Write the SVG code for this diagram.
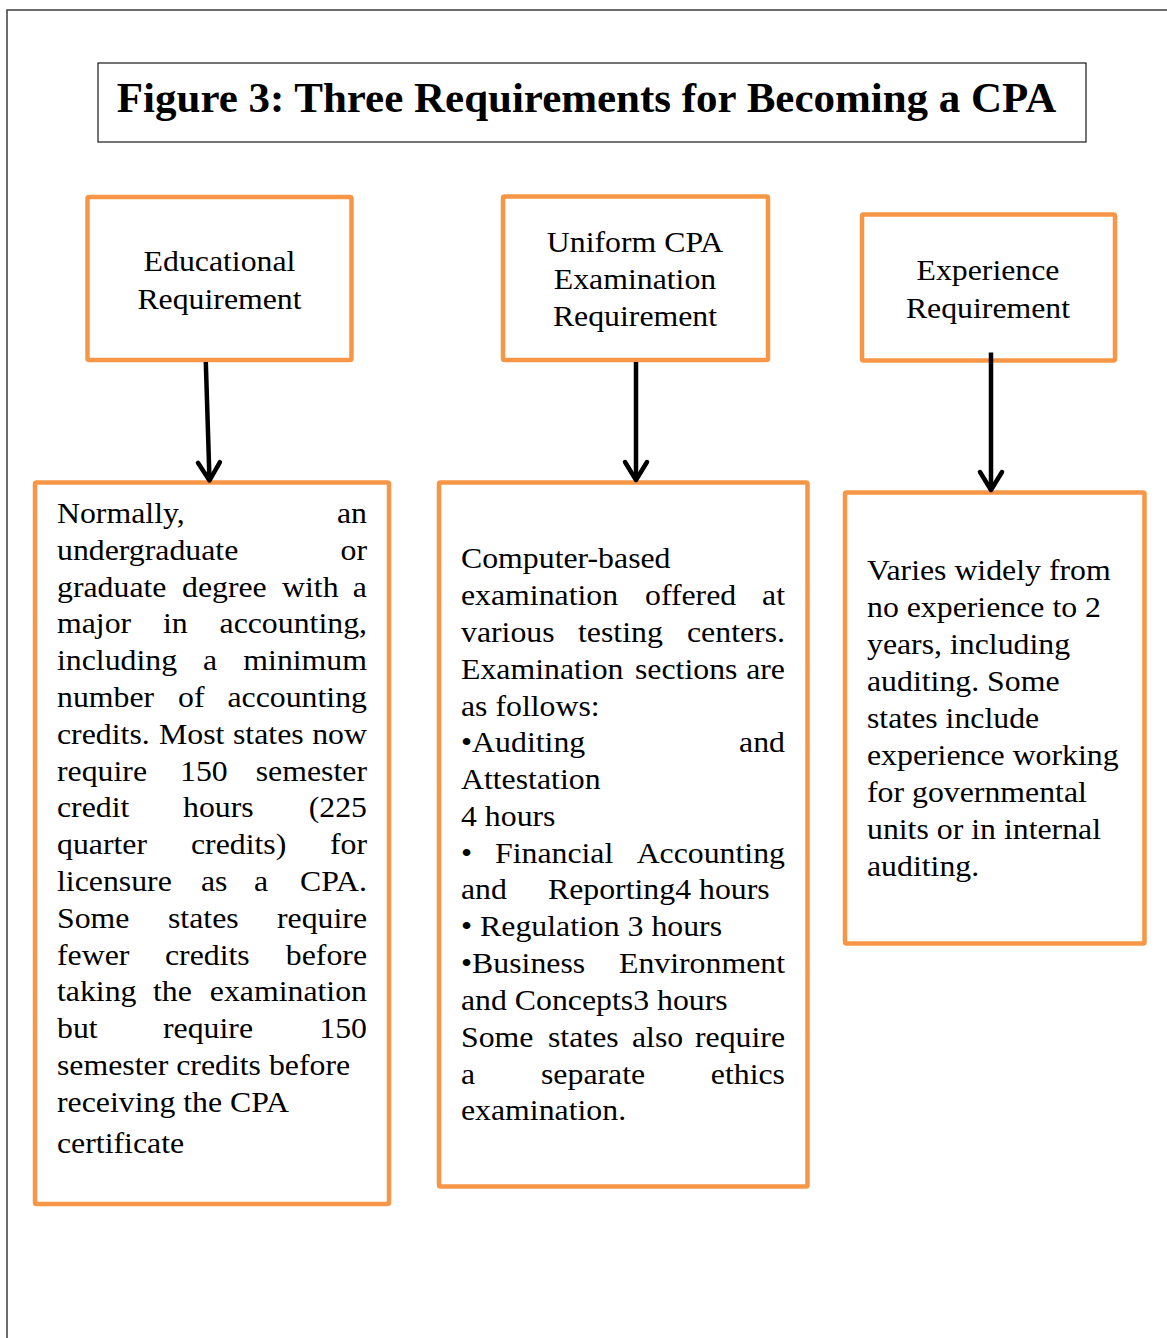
<svg xmlns="http://www.w3.org/2000/svg" width="1167" height="1338" viewBox="0 0 1167 1338">
<style>
.frame{fill:none;stroke:#3c3c3c;stroke-width:1.5}
.tbox{fill:#fff;stroke:#1a1a1a;stroke-width:1.2}
.box{fill:#fff;stroke:#F79646;stroke-width:4.5}
.title{font-family:"Liberation Serif","Times New Roman",serif;font-weight:bold;font-size:43px;fill:#000;text-anchor:middle}
.hd{font-family:"Liberation Serif","Times New Roman",serif;font-size:31.8px;fill:#000;text-anchor:middle}
.bd{font-family:"Liberation Serif","Times New Roman",serif;font-size:31.8px;fill:#000}
.e{text-anchor:end}
.conn{stroke:#000;stroke-width:4.5;fill:none}
</style>
<defs>
<marker id="ah" viewBox="-22 -15 26 30" refX="0" refY="0" markerWidth="26" markerHeight="30" markerUnits="userSpaceOnUse" orient="auto">
<path d="M-18,-11 L0,0 L-18,11" fill="none" stroke="#000" stroke-width="4.5" stroke-linecap="round" stroke-linejoin="round"/>
</marker>
</defs>
<rect width="1167" height="1338" fill="#fff"/>
<rect class="frame" x="7" y="10" width="1200" height="1400"/>

<g id="title">
<rect class="tbox" x="98" y="63" width="988" height="79"/>
<text class="title" transform="translate(0,112) scale(1,0.96)" x="586.5" y="0">Figure 3: Three Requirements for Becoming a CPA</text>
</g>

<g id="educational">
<rect class="box" x="87.5" y="197" width="264" height="163" rx="1.5"/>
<text class="hd" transform="translate(0,271) scale(1,0.95)" x="219.5" y="0">Educational</text>
<text class="hd" transform="translate(0,309) scale(1,0.95)" x="219.5" y="0">Requirement</text>
</g>

<g id="uniform-cpa">
<rect class="box" x="503" y="196.5" width="265" height="163.5" rx="1.5"/>
<text class="hd" transform="translate(0,252) scale(1,0.95)" x="635" y="0">Uniform CPA</text>
<text class="hd" transform="translate(0,289) scale(1,0.95)" x="635" y="0">Examination</text>
<text class="hd" transform="translate(0,326) scale(1,0.95)" x="635" y="0">Requirement</text>
</g>

<g id="experience">
<rect class="box" x="862" y="214.5" width="253" height="146" rx="1.5"/>
<text class="hd" transform="translate(0,280) scale(1,0.95)" x="988" y="0">Experience</text>
<text class="hd" transform="translate(0,318) scale(1,0.95)" x="988" y="0">Requirement</text>
</g>

<g id="educational-detail">
<rect class="box" x="35" y="482.5" width="354" height="721.5" rx="1.5"/>
<text class="bd" transform="translate(0,523) scale(1,0.9)" y="0"><tspan x="57">Normally,</tspan><tspan x="367" class="e">an</tspan></text>
<text class="bd" transform="translate(0,560) scale(1,0.9)" y="0"><tspan x="57">undergraduate</tspan><tspan x="367" class="e">or</tspan></text>
<text class="bd" transform="translate(0,597) scale(1,0.9)" y="0"><tspan x="57">graduate</tspan><tspan x="182">degree</tspan><tspan x="282">with</tspan><tspan x="367" class="e">a</tspan></text>
<text class="bd" transform="translate(0,633) scale(1,0.9)" y="0"><tspan x="57">major</tspan><tspan x="163">in</tspan><tspan x="367" class="e">accounting,</tspan></text>
<text class="bd" transform="translate(0,670) scale(1,0.9)" y="0"><tspan x="57">including</tspan><tspan x="203">a</tspan><tspan x="367" class="e">minimum</tspan></text>
<text class="bd" transform="translate(0,707) scale(1,0.9)" y="0"><tspan x="57">number</tspan><tspan x="178">of</tspan><tspan x="367" class="e">accounting</tspan></text>
<text class="bd" transform="translate(0,744) scale(1,0.9)" y="0"><tspan x="57">credits.</tspan><tspan x="159">Most</tspan><tspan x="233">states</tspan><tspan x="367" class="e">now</tspan></text>
<text class="bd" transform="translate(0,781) scale(1,0.9)" y="0"><tspan x="57">require</tspan><tspan x="180">150</tspan><tspan x="367" class="e">semester</tspan></text>
<text class="bd" transform="translate(0,817) scale(1,0.9)" y="0"><tspan x="57">credit</tspan><tspan x="183">hours</tspan><tspan x="367" class="e">(225</tspan></text>
<text class="bd" transform="translate(0,854) scale(1,0.9)" y="0"><tspan x="57">quarter</tspan><tspan x="191">credits)</tspan><tspan x="367" class="e">for</tspan></text>
<text class="bd" transform="translate(0,891) scale(1,0.9)" y="0"><tspan x="57">licensure</tspan><tspan x="201">as</tspan><tspan x="254">a</tspan><tspan x="367" class="e">CPA.</tspan></text>
<text class="bd" transform="translate(0,928) scale(1,0.9)" y="0"><tspan x="57">Some</tspan><tspan x="168">states</tspan><tspan x="367" class="e">require</tspan></text>
<text class="bd" transform="translate(0,965) scale(1,0.9)" y="0"><tspan x="57">fewer</tspan><tspan x="165">credits</tspan><tspan x="367" class="e">before</tspan></text>
<text class="bd" transform="translate(0,1001) scale(1,0.9)" y="0"><tspan x="57">taking</tspan><tspan x="153">the</tspan><tspan x="367" class="e">examination</tspan></text>
<text class="bd" transform="translate(0,1038) scale(1,0.9)" y="0"><tspan x="57">but</tspan><tspan x="163">require</tspan><tspan x="367" class="e">150</tspan></text>
<text class="bd" transform="translate(0,1075) scale(1,0.9)" x="57" y="0">semester credits before</text>
<text class="bd" transform="translate(0,1112) scale(1,0.9)" x="57" y="0">receiving the CPA</text>
<text class="bd" transform="translate(0,1153) scale(1,0.9)" x="57" y="0">certificate</text>
</g>

<g id="exam-detail">
<rect class="box" x="439" y="482.5" width="368.5" height="704" rx="1.5"/>
<text class="bd" transform="translate(0,568) scale(1,0.9)" x="461" y="0">Computer-based</text>
<text class="bd" transform="translate(0,605) scale(1,0.9)" y="0"><tspan x="461">examination</tspan><tspan x="645">offered</tspan><tspan x="785" class="e">at</tspan></text>
<text class="bd" transform="translate(0,642) scale(1,0.9)" y="0"><tspan x="461">various</tspan><tspan x="578">testing</tspan><tspan x="785" class="e">centers.</tspan></text>
<text class="bd" transform="translate(0,679) scale(1,0.9)" y="0"><tspan x="461">Examination</tspan><tspan x="635">sections</tspan><tspan x="785" class="e">are</tspan></text>
<text class="bd" transform="translate(0,716) scale(1,0.9)" x="461" y="0">as follows:</text>
<text class="bd" transform="translate(0,752) scale(1,0.9)" y="0"><tspan x="461">•Auditing</tspan><tspan x="785" class="e">and</tspan></text>
<text class="bd" transform="translate(0,789) scale(1,0.9)" x="461" y="0">Attestation</text>
<text class="bd" transform="translate(0,826) scale(1,0.9)" x="461" y="0">4 hours</text>
<text class="bd" transform="translate(0,863) scale(1,0.9)" y="0"><tspan x="461">•</tspan><tspan x="495">Financial</tspan><tspan x="785" class="e">Accounting</tspan></text>
<text class="bd" transform="translate(0,899) scale(1,0.9)" y="0"><tspan x="461">and</tspan><tspan x="548">Reporting4 hours</tspan></text>
<text class="bd" transform="translate(0,936) scale(1,0.9)" x="461" y="0">• Regulation 3 hours</text>
<text class="bd" transform="translate(0,973) scale(1,0.9)" y="0"><tspan x="461">•Business</tspan><tspan x="785" class="e">Environment</tspan></text>
<text class="bd" transform="translate(0,1010) scale(1,0.9)" x="461" y="0">and Concepts3 hours</text>
<text class="bd" transform="translate(0,1047) scale(1,0.9)" y="0"><tspan x="461">Some</tspan><tspan x="548">states</tspan><tspan x="632">also</tspan><tspan x="785" class="e">require</tspan></text>
<text class="bd" transform="translate(0,1084) scale(1,0.9)" y="0"><tspan x="461">a</tspan><tspan x="541">separate</tspan><tspan x="785" class="e">ethics</tspan></text>
<text class="bd" transform="translate(0,1120) scale(1,0.9)" x="461" y="0">examination.</text>
</g>

<g id="experience-detail">
<rect class="box" x="845" y="492.5" width="299.5" height="451" rx="1.5"/>
<text class="bd" transform="translate(0,580) scale(1,0.9)" x="867" y="0">Varies widely from</text>
<text class="bd" transform="translate(0,617) scale(1,0.9)" x="867" y="0">no experience to 2</text>
<text class="bd" transform="translate(0,654) scale(1,0.9)" x="867" y="0">years, including</text>
<text class="bd" transform="translate(0,691) scale(1,0.9)" x="867" y="0">auditing. Some</text>
<text class="bd" transform="translate(0,728) scale(1,0.9)" x="867" y="0">states include</text>
<text class="bd" transform="translate(0,765) scale(1,0.9)" x="867" y="0">experience working</text>
<text class="bd" transform="translate(0,802) scale(1,0.9)" x="867" y="0">for governmental</text>
<text class="bd" transform="translate(0,839) scale(1,0.9)" x="867" y="0">units or in internal</text>
<text class="bd" transform="translate(0,876) scale(1,0.9)" x="867" y="0">auditing.</text>
</g>

<g id="connectors">
<path class="conn" d="M205.8,362 L209.5,480.5" marker-end="url(#ah)"/>
<path class="conn" d="M636,362 L636,480" marker-end="url(#ah)"/>
<path class="conn" d="M991,352.5 L991,490" marker-end="url(#ah)"/>
</g>
</svg>
